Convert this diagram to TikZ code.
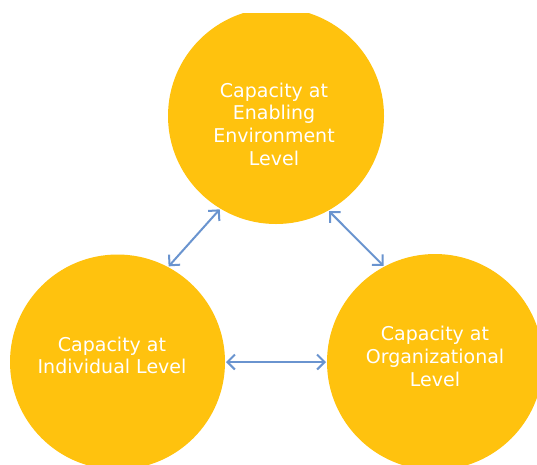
\documentclass[tikz,border=0pt]{standalone}
\usepackage{fontspec}
\setmainfont{DejaVu Sans}
\usetikzlibrary{arrows.meta}
\definecolor{capyellow}{HTML}{FFC20E}
\definecolor{arrowblue}{HTML}{6A94CF}
\begin{document}
\begin{tikzpicture}[x=1pt,y=-1pt,
  capcircle/.style={circle, fill=capyellow, draw=none, minimum size=#1, inner sep=0pt, outer sep=0pt},
  captext/.style={text=white, align=center, font=\fontsize{19}{22.7}\selectfont, inner sep=0pt},
  link/.style={draw=arrowblue, line width=2pt, shorten <=1pt, shorten >=1pt,
    {Straight Barb[length=7.5pt,width=15pt]}-{Straight Barb[length=7.5pt,width=15pt]}}]
\useasboundingbox (0,0) rectangle (537,464);
\fill[white] (0,0) rectangle (537,464);
\clip (0,13) rectangle (537,464);
\node[capcircle=216pt] (env) at (276,116) {};
\node[capcircle=215pt] (ind) at (117.5,362) {};
\node[capcircle=216pt] (org) at (435,362) {};
\node[captext] (envtxt) at (274,124) {Capacity at\\Enabling\\Environment\\Level};
\node[captext] (indtxt) at (112,355.5) {Capacity at\\Individual Level};
\node[captext] (orgtxt) at (435,356.5) {Capacity at\\Organizational\\Level};
\draw[link] (ind.62.5) -- (env.239.7);
\draw[link] (env.299.9) -- (org.118.4);
\draw[link] (ind.0) -- (org.180);
\end{tikzpicture}
\end{document}
